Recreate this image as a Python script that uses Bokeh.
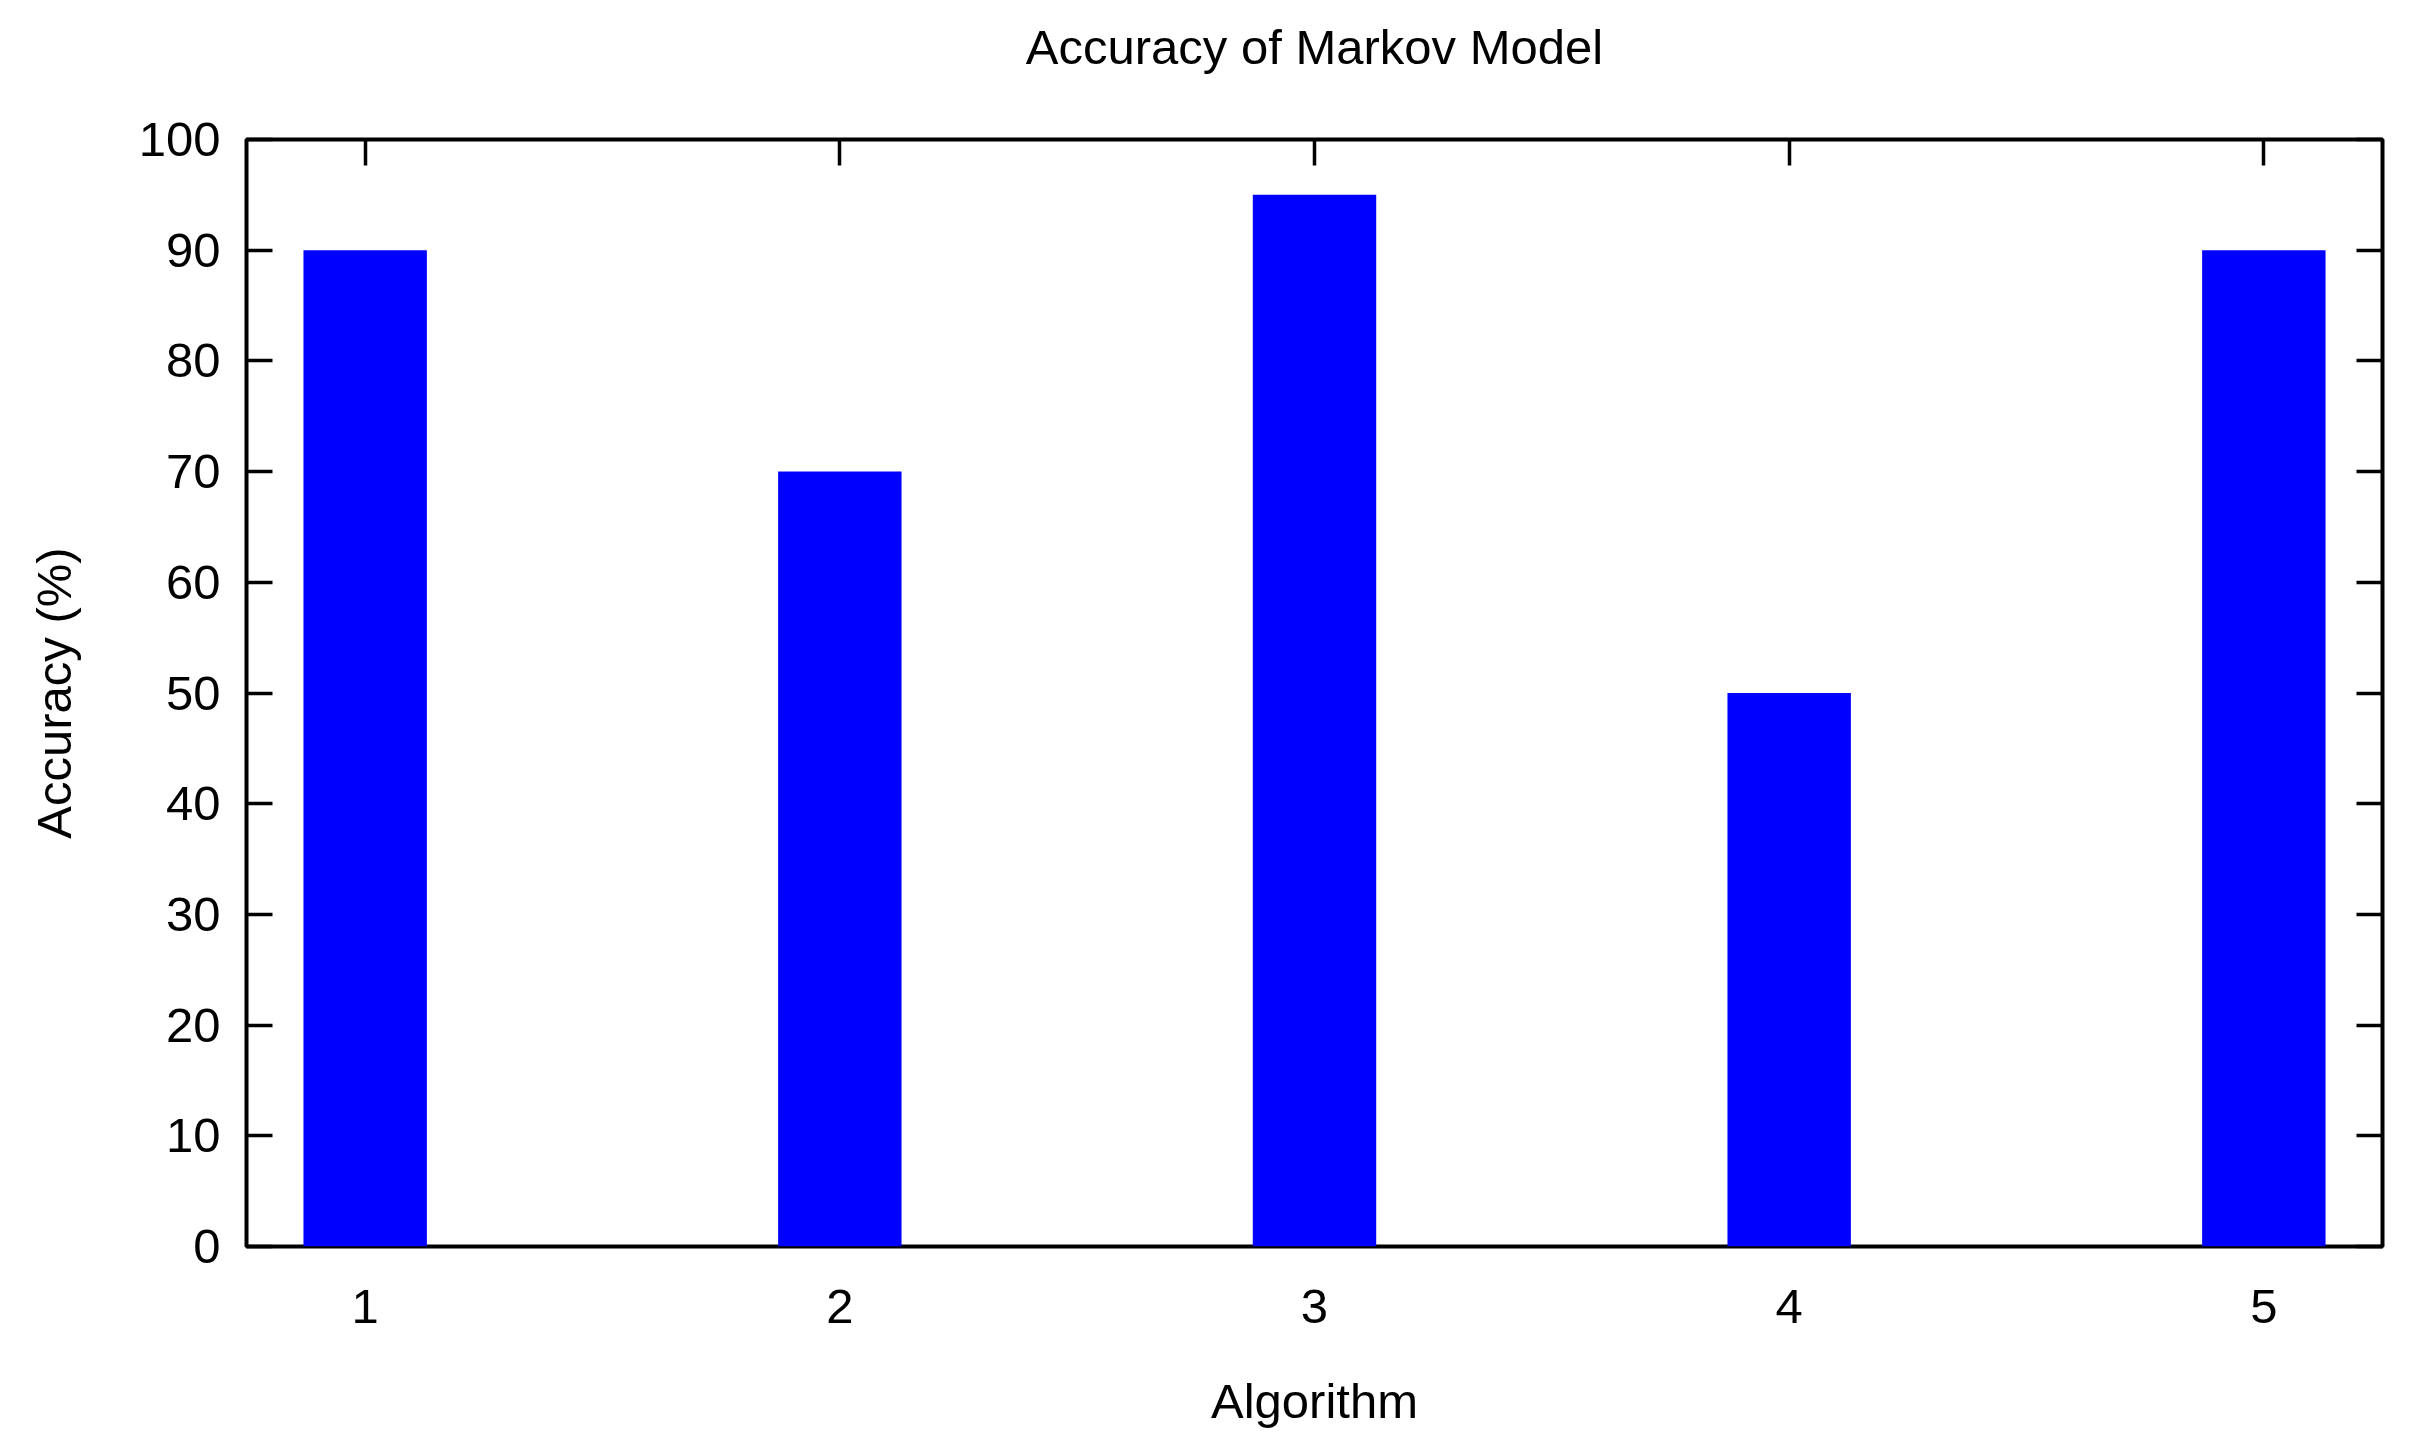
from bokeh.plotting import figure
from bokeh.models import LinearAxis, FixedTicker, Range1d
from bokeh.embed import file_html
from bokeh.resources import INLINE

# ---- data ----
algorithms = [1, 2, 3, 4, 5]
accuracy = [90, 70, 95, 50, 90]
y_ticks = [0, 10, 20, 30, 40, 50, 60, 70, 80, 90, 100]
x_ticks = [1, 2, 3, 4, 5]
title_text = "Accuracy of Markov Model"

FONT = "Liberation Sans"
FS = "49px"

p = figure(width=2400, height=1440, output_backend="svg", toolbar_location=None,
           x_range=Range1d(0.75, 5.25), y_range=Range1d(0, 100),
           min_border_left=246, min_border_right=18, min_border_top=139, min_border_bottom=194,
           x_axis_label="Algorithm", y_axis_label="Accuracy (%)")

p.vbar(x=algorithms, top=accuracy, width=0.26, fill_color="#0000ff", line_color=None)

p.grid.visible = False
p.outline_line_color = "black"
p.outline_line_width = 4
p.background_fill_color = "white"
p.border_fill_color = "white"

def style(ax, ticks, tick_in, show_labels):
    ax.ticker = FixedTicker(ticks=ticks)
    ax.minor_tick_line_color = None
    ax.axis_line_color = None
    ax.major_tick_in = tick_in
    ax.major_tick_out = 0
    ax.major_tick_line_width = 3.5
    ax.major_tick_line_color = "black"
    ax.major_label_text_font = FONT
    ax.major_label_text_color = "black"
    ax.major_label_text_font_size = FS
    ax.axis_label_text_font = FONT
    ax.axis_label_text_font_size = FS
    ax.axis_label_text_font_style = "normal"
    ax.axis_label_text_color = "black"
    if not show_labels:
        ax.major_label_overrides = {t: "" for t in ticks}
        ax.major_label_standoff = 0

xa = p.xaxis[0]
style(xa, x_ticks, 0, True)
xa.major_label_standoff = 43
xa.axis_label_standoff = 48

ya = p.yaxis[0]
style(ya, y_ticks, 26, True)
ya.major_label_standoff = 26
ya.axis_label_standoff = 55

top = LinearAxis(axis_label=title_text)
style(top, x_ticks, 26, False)
top.axis_label_standoff = 66
p.add_layout(top, "above")

right = LinearAxis()
style(right, y_ticks, 26, False)
p.add_layout(right, "right")

open("out.html", "w").write(file_html(p, INLINE))
